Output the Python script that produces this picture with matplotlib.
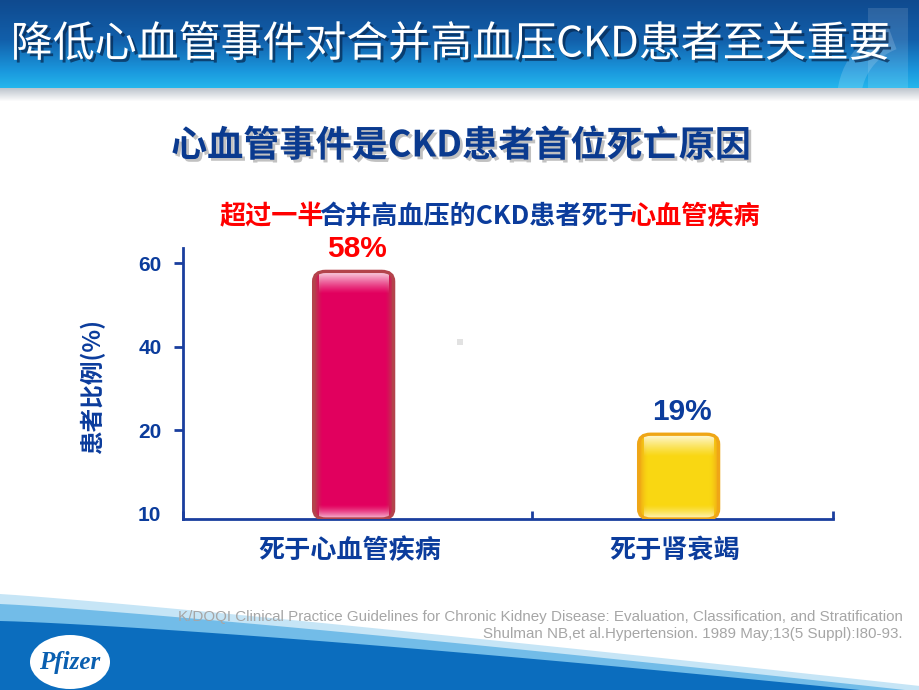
import numpy as np
import matplotlib
matplotlib.use("Agg")
import matplotlib.pyplot as plt
from matplotlib.patches import FancyBboxPatch, Polygon, Ellipse, Rectangle, Wedge
import matplotlib.patheffects as pe

# ---------------- data ----------------
categories = ["死于心血管疾病", "死于肾衰竭"]
values = [58, 19]
value_labels = ["58%", "19%"]
value_label_colors = ["#FF0000", "#0B3C9C"]
bar_fill = ["#E2005E", "#F9D712"]
bar_edge = ["#B3434B", "#EFA616"]
ytick_values = [0, 20, 40, 60]
ytick_labels = ["10", "20", "40", "60"]
title = "降低心血管事件对合并高血压CKD患者至关重要"
subtitle = "心血管事件是CKD患者首位死亡原因"
headline_parts = [("超过一半", "#FF0000"), ("合并高血压的CKD患者死于", "#0B3C9C"), ("心血管疾病", "#FF0000")]
ylabel = "患者比例(%)"
refs = ["K/DOQI Clinical Practice Guidelines for Chronic Kidney Disease: Evaluation, Classification, and Stratification",
        "Shulman NB,et al.Hypertension. 1989 May;13(5 Suppl):I80-93."]

NAVY = "#0B3C9C"
CJK = ["Noto Sans CJK SC", "DejaVu Sans"]
LAT = ["Liberation Sans", "DejaVu Sans"]

W, H = 920, 690
fig = plt.figure(figsize=(9.2, 6.9), dpi=100)
fig.patch.set_facecolor("white")

# ---------------- background / slide decoration ----------------
bg = fig.add_axes([0, 0, 1, 1], zorder=0)
bg.set_xlim(0, W)
bg.set_ylim(H, 0)
bg.axis("off")

def vgrad(stops, n):
    pos = np.array([s[0] for s in stops])
    cols = np.array([s[1] for s in stops], dtype=float) / 255.0
    t = np.linspace(0, 1, n)
    out = np.stack([np.interp(t, pos, cols[:, k]) for k in range(3)], axis=1)
    return out[:, None, :]

banner = vgrad([(0, (15, 74, 143)), (0.45, (18, 95, 170)), (0.8, (26, 150, 220)), (1.0, (36, 182, 236))], 88)
bg.imshow(banner, extent=(0, W, 88, 0), aspect="auto", zorder=1, interpolation="bilinear")
strip = vgrad([(0, (190, 198, 206)), (1.0, (255, 255, 255))], 14)
bg.imshow(strip, extent=(0, W, 102, 88), aspect="auto", zorder=1, interpolation="bilinear")
bg.set_xlim(0, W)
bg.set_ylim(H, 0)

# faint emblem in banner
clipr = Rectangle((0, 0), W, 88, transform=bg.transData, facecolor="none", edgecolor="none")
bg.add_patch(clipr)
w1 = Wedge((915, 100), 78, 95, 250, width=24, facecolor="white", alpha=0.16, zorder=2)
bg.add_patch(w1)
w1.set_clip_path(clipr)
r1 = Rectangle((868, 8), 40, 80, facecolor="white", alpha=0.12, zorder=2)
bg.add_patch(r1)
r1.set_clip_path(clipr)

# bottom swoosh
xs = np.linspace(0, W, 60)
top1 = 594 + 92 * (xs / W) ** 1.1
bg.add_patch(Polygon(np.column_stack([np.r_[xs, W, 0], np.r_[top1, H, H]]), closed=True,
                     facecolor="#C6E5F6", edgecolor="none", zorder=1))
xs2 = np.linspace(0, 905, 60)
top2 = 604 + 86 * (xs2 / 905) ** 1.15
bg.add_patch(Polygon(np.column_stack([np.r_[xs2, 0], np.r_[top2, H]]), closed=True,
                     facecolor="#72BCE8", edgecolor="none", zorder=1))
xs3 = np.linspace(0, 860, 60)
top3 = 621 + 69 * (xs3 / 860) ** 1.25
bg.add_patch(Polygon(np.column_stack([np.r_[xs3, 0], np.r_[top3, H]]), closed=True,
                     facecolor="#0B6DBE", edgecolor="none", zorder=1))

# Pfizer logo
bg.add_patch(Ellipse((70, 662), 80, 54, facecolor="white", edgecolor="none", zorder=3))
bg.text(70, 663, "Pfizer", ha="center", va="center", fontsize=18, fontstyle="italic",
        fontweight="bold", family=["Liberation Serif", "DejaVu Serif"], color="#0A5FB0", zorder=4)

# tiny grey mark
bg.add_patch(Rectangle((457, 339), 6, 6, facecolor="#E2E2E2", edgecolor="none", zorder=1))

# ---------------- texts ----------------
fig.text(450 / W, 1 - 45 / H, title, ha="center", va="center", fontsize=30.2, color="white",
         family=CJK, fontweight="medium",
         path_effects=[pe.withSimplePatchShadow(offset=(2, -2), shadow_rgbFace="#06264d", alpha=0.7)])
fig.text(461 / W, 1 - 146 / H, subtitle, ha="center", va="center", fontsize=26, color="#0A3A8F",
         family=CJK, fontweight="bold",
         path_effects=[pe.withSimplePatchShadow(offset=(2, -2), shadow_rgbFace="#777777", alpha=0.45)])

prev = None
for s, c in headline_parts:
    if prev is None:
        prev = fig.text(220 / W, 1 - 230 / H, s, ha="left", va="bottom", fontsize=18.8,
                        color=c, family=CJK, fontweight="bold")
    else:
        prev = bg.annotate(s, xy=(1, 0), xycoords=prev, xytext=(-5, 0), textcoords="offset pixels",
                           ha="left", va="bottom", fontsize=18.8, color=c, family=CJK,
                           fontweight="bold", annotation_clip=False)

fig.text(93 / W, 1 - 387 / H, ylabel, rotation=90, ha="center", va="center", fontsize=17,
         color=NAVY, family=CJK, fontweight="bold")

for i, line in enumerate(refs):
    fig.text(903 / W, 1 - (617 + 17 * i) / H, line, ha="right", va="center", fontsize=10.9,
             color="#A6A6A6", family=LAT, zorder=5)

# ---------------- chart ----------------
ax = fig.add_axes([183 / W, 1 - 519 / H, 650 / W, (519 - 248) / H], zorder=2)
ax.patch.set_alpha(0)
ymin, ymax = -1.3, 63.6
xmin, xmax = -0.525, 1.475
x = np.arange(len(categories))
bw = 0.246

def set_lims():
    ax.set_xlim(xmin, xmax)
    ax.set_ylim(ymin, ymax)

set_lims()
px_x = 650 / (xmax - xmin)
px_y = (519 - 248) / (ymax - ymin)
rx = 12 / px_x
ry = 10 / px_y

bars = ax.bar(x, np.array(values) - ymin, bottom=ymin, width=bw, color="none", edgecolor="none")
for i, b in enumerate(bars):
    x0, y0, w, h = b.get_x(), b.get_y(), b.get_width(), b.get_height()
    fc = np.array(matplotlib.colors.to_rgb(bar_fill[i]))
    ec = np.array(matplotlib.colors.to_rgb(bar_edge[i]))
    body = FancyBboxPatch((x0, y0), w, h, boxstyle=f"round,pad=0,rounding_size={rx}",
                          mutation_aspect=ry / rx, facecolor=bar_fill[i], edgecolor="none", zorder=2)
    ax.add_patch(body)
    wpx = int(round(w * px_x))
    hpx = int(round(h * px_y))
    img = np.tile(fc, (hpx, wpx, 1))
    cols = np.linspace(-1, 1, wpx)
    edge_mix = np.clip((np.abs(cols) - 0.78) / 0.22, 0, 1) ** 1.5
    img = img * (1 - edge_mix[None, :, None]) + ec * edge_mix[None, :, None]
    inset = (np.abs(cols) < 0.88).astype(float)
    d = np.arange(hpx)
    cap = 0.85 * np.clip(1 - d / 22.0, 0, 1) ** 1.2
    bot = 0.75 * np.clip(1 - (hpx - 1 - d) / 14.0, 0, 1) ** 1.4
    a = np.maximum(cap, bot)[:, None] * inset[None, :]
    img = img * (1 - a[..., None]) + a[..., None]
    im = ax.imshow(img, extent=(x0, x0 + w, y0, y0 + h), origin="upper", aspect="auto",
                   interpolation="bilinear", zorder=3)
    im.set_clip_path(body)
    ax.add_patch(FancyBboxPatch((x0, y0), w, h, boxstyle=f"round,pad=0,rounding_size={rx}",
                                mutation_aspect=ry / rx, facecolor="none", edgecolor=bar_edge[i],
                                linewidth=2.4, zorder=4))
    ax.text(x[i] + 0.01, values[i] + 5.3, value_labels[i], ha="center", va="center", fontsize=21.5,
            fontweight="bold", color=value_label_colors[i], family=LAT)

set_lims()
ax.set_aspect("auto")

for s in ["top", "right"]:
    ax.spines[s].set_visible(False)
for s in ["left", "bottom"]:
    ax.spines[s].set_color("#1A3E9E")
    ax.spines[s].set_linewidth(2.0)

ax.set_yticks(ytick_values, ytick_labels)
ax.tick_params(axis="y", direction="out", length=6.5, width=2, color="#1A3E9E", pad=9,
               labelsize=15, labelcolor=NAVY)
for lab in ax.get_yticklabels():
    lab.set_fontweight("bold")
    lab.set_family(LAT)
ax.yaxis.get_major_ticks()[0].tick1line.set_visible(False)

ax.set_xticks(x - 0.012, categories)
ax.set_xticks([xmin, 0.55, xmax], minor=True)
ax.tick_params(axis="x", which="major", length=0, pad=13, labelsize=18.8, labelcolor=NAVY)
ax.tick_params(axis="x", which="minor", direction="in", length=6, width=2, color="#1A3E9E")
for lab in ax.get_xticklabels():
    lab.set_family(CJK)
    lab.set_fontweight("bold")

fig.savefig("out.png", dpi=100)
